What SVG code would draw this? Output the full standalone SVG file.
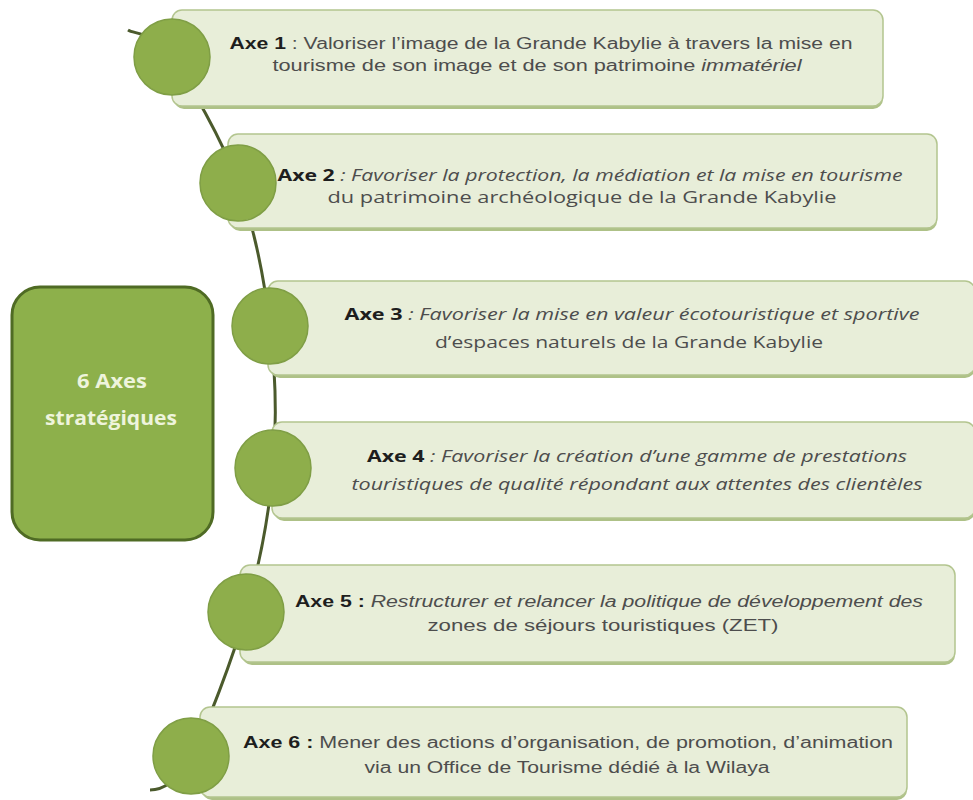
<svg xmlns="http://www.w3.org/2000/svg" width="973" height="800" viewBox="0 0 973 800">
<style>
.box{fill:#e8eed9;stroke:#b3c58f;stroke-width:1.5}
.shadow{fill:#aec187}
.dot{fill:#8eae4b;stroke:#7f9e45;stroke-width:1.5}
.t{font-family:"Liberation Sans",Arial,sans-serif;font-size:16px;fill:#4d4d4d;text-anchor:middle}
.c{font-family:"Open Sans","Noto Sans",sans-serif;font-size:16px;fill:#4d4d4d;text-anchor:middle}
.b{font-weight:bold;fill:#1e1e1e;font-style:normal}
.i{font-style:italic}
.main{fill:#8db04b;stroke:#4f6b24;stroke-width:3}
.mt{font-family:"Open Sans","Noto Sans",sans-serif;font-size:20px;font-weight:700;fill:#eef4dc;text-anchor:middle}
.line{fill:none;stroke:#4b5a2c;stroke-width:3}
</style>
<rect width="973" height="800" fill="#ffffff"/>
<g id="connectors">
<path class="line" d="M128 30 C135 34.5,152.7 31.5,171 57 C189.3 82.5,221.5 138.2,238 183 C254.5 227.8,264.2 278.5,270 326 C275.8 373.5,277 420.3,273 468 C269 515.7,259.7 564,246 612 C232.3 660,207 726.3,191 756 C175 785.7,160 790,150 790"/>
</g>
<g id="center">
<rect class="main" x="12" y="287" width="201" height="253" rx="28"/>
<text class="mt" x="112" y="388" textLength="70" lengthAdjust="spacingAndGlyphs">6 Axes</text>
<text class="mt" x="111" y="425" textLength="132" lengthAdjust="spacingAndGlyphs">stratégiques</text>
</g>
<g id="axe1">
<rect class="shadow" x="174" y="13" width="709" height="96" rx="10"/>
<rect class="box" x="172" y="10" width="711" height="96" rx="10"/>
<circle class="dot" cx="172" cy="57" r="38"/>
<text class="t" x="541" y="49" textLength="623" lengthAdjust="spacingAndGlyphs"><tspan class="b">Axe 1</tspan> : Valoriser l’image de la Grande Kabylie à travers la mise en</text>
<text class="t" x="537" y="71" textLength="529" lengthAdjust="spacingAndGlyphs">tourisme de son image et de son patrimoine <tspan class="i">immatériel</tspan></text>
</g>
<g id="axe2">
<rect class="shadow" x="230" y="137" width="707" height="94" rx="10"/>
<rect class="box" x="228" y="134" width="709" height="94" rx="10"/>
<circle class="dot" cx="238" cy="183" r="38"/>
<text class="c i" x="590" y="181" textLength="625" lengthAdjust="spacingAndGlyphs"><tspan class="b">Axe 2</tspan> : Favoriser la protection, la médiation et la mise en tourisme</text>
<text class="c" x="582" y="203" textLength="509" lengthAdjust="spacingAndGlyphs">du patrimoine archéologique de la Grande Kabylie</text>
</g>
<g id="axe3">
<rect class="shadow" x="270" y="284" width="705" height="94" rx="10"/>
<rect class="box" x="268" y="281" width="707" height="94" rx="10"/>
<circle class="dot" cx="270" cy="326" r="38"/>
<text class="c i" x="632" y="320" textLength="575" lengthAdjust="spacingAndGlyphs"><tspan class="b">Axe 3</tspan> : Favoriser la mise en valeur écotouristique et sportive</text>
<text class="c" x="629" y="348" textLength="388" lengthAdjust="spacingAndGlyphs">d’espaces naturels de la Grande Kabylie</text>
</g>
<g id="axe4">
<rect class="shadow" x="274" y="425" width="701" height="96" rx="10"/>
<rect class="box" x="272" y="422" width="703" height="96" rx="10"/>
<circle class="dot" cx="273" cy="468" r="38"/>
<text class="c i" x="637" y="462" textLength="540" lengthAdjust="spacingAndGlyphs"><tspan class="b">Axe 4</tspan> : Favoriser la création d’une gamme de prestations</text>
<text class="c i" x="637" y="490" textLength="571" lengthAdjust="spacingAndGlyphs">touristiques de qualité répondant aux attentes des clientèles</text>
</g>
<g id="axe5">
<rect class="shadow" x="242" y="568" width="713" height="97" rx="10"/>
<rect class="box" x="240" y="565" width="715" height="97" rx="10"/>
<circle class="dot" cx="246" cy="612" r="38"/>
<text class="t i" x="609" y="607" textLength="628" lengthAdjust="spacingAndGlyphs"><tspan class="b">Axe 5 :</tspan> Restructurer et relancer la politique de développement des</text>
<text class="t" x="603" y="631" textLength="351" lengthAdjust="spacingAndGlyphs">zones de séjours touristiques (ZET)</text>
</g>
<g id="axe6">
<rect class="shadow" x="202" y="710" width="705" height="90" rx="10"/>
<rect class="box" x="200" y="707" width="707" height="90" rx="10"/>
<circle class="dot" cx="191" cy="756" r="38"/>
<text class="t" x="568" y="748" textLength="650" lengthAdjust="spacingAndGlyphs"><tspan class="b">Axe 6 :</tspan> Mener des actions d’organisation, de promotion, d’animation</text>
<text class="t" x="567" y="773" textLength="405" lengthAdjust="spacingAndGlyphs">via un Office de Tourisme dédié à la Wilaya</text>
</g>
</svg>
